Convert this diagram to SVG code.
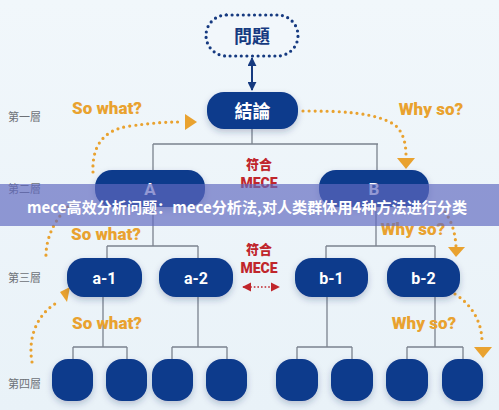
<svg xmlns="http://www.w3.org/2000/svg" width="499" height="410" viewBox="0 0 499 410">
<defs>
<linearGradient id="bg" x1="0" y1="0" x2="0" y2="1">
<stop offset="0" stop-color="#f1f7fb"/>
<stop offset="1" stop-color="#e9f2f8"/>
</linearGradient>
<filter id="sh" x="-20%" y="-20%" width="140%" height="160%">
<feDropShadow dx="0" dy="3" stdDeviation="3" flood-color="#1a2f60" flood-opacity="0.25"/>
</filter>
<marker id="navyA" viewBox="0 0 10 10" refX="9" refY="5" markerWidth="9" markerHeight="9" markerUnits="userSpaceOnUse" orient="auto-start-reverse">
<path d="M0,0 L10,5 L0,10 z" fill="#163a80"/>
</marker>
<marker id="redA" viewBox="0 0 10 10" refX="9" refY="5" markerWidth="9" markerHeight="10" markerUnits="userSpaceOnUse" orient="auto-start-reverse">
<path d="M0,0 L10,5 L0,10 z" fill="#c0262c"/>
</marker>
</defs>
<style>
.node rect{fill:#103a8c;filter:url(#sh)}
.nt{font-family:"Roboto","Noto Sans CJK TC",sans-serif;font-weight:700;fill:#fff;text-anchor:middle;dominant-baseline:central}
.tree{fill:none;stroke:#7b838e;stroke-width:1.3}
.dot{fill:none;stroke:#e9a22f;stroke-width:3.2;stroke-linecap:round;stroke-dasharray:0 6}
.oa{fill:#e9a22f}
.ol{font-family:"Roboto","Liberation Sans",sans-serif;font-weight:900;font-size:17px;fill:#e9a22f;text-anchor:middle;dominant-baseline:central}
.lv{font-family:"Noto Sans CJK TC",sans-serif;font-size:11px;fill:#6d7177}
.red{font-family:"Roboto","Noto Sans CJK TC",sans-serif;font-weight:900;fill:#c0262c;text-anchor:middle;dominant-baseline:central}
</style>
<rect width="499" height="410" fill="url(#bg)"/>

<g id="connectors">
<path class="tree" d="M252,128 V144 M153,144 H378 M153,144 V170 M377,144 V170"/>
<path class="tree" d="M153,207 V246 M107,246 H198 M107,246 V258 M198,246 V258"/>
<path class="tree" d="M376,207 V246 M326,246 H435 M326,246 V258 M435,246 V258"/>
<path class="tree" d="M103,297 V347 M73,347 H127 M73,347 V359 M127,347 V359"/>
<path class="tree" d="M198,297 V347 M172,347 H227 M172,347 V359 M227,347 V359"/>
<path class="tree" d="M327,297 V347 M297,347 H352 M297,347 V359 M352,347 V359"/>
<path class="tree" d="M435,297 V347 M407,347 H463 M407,347 V359 M463,347 V359"/>
<line x1="252" y1="58" x2="252" y2="90" stroke="#163a80" stroke-width="2" marker-start="url(#navyA)" marker-end="url(#navyA)"/>
<line x1="243" y1="287" x2="279" y2="287" stroke="#c0262c" stroke-width="1.6" stroke-dasharray="1.6 2" marker-start="url(#redA)" marker-end="url(#redA)"/>
<path class="dot" d="M93,172 C92,150 100,130 130,126 S170,122 183,122"/>
<path class="oa" d="M185,114 L197,122 L185,130 z"/>
<path class="dot" d="M303,111 C340,111 375,112 395,125 C404,133 406,145 406,156"/>
<path class="oa" d="M397,158 L415,158 L406,169 z"/>
<path class="dot" d="M72,203 C58,215 45,235 46,259"/>
<path class="dot" d="M445,212 C452,222 455,232 456,246"/>
<path class="oa" d="M448,247 L465,247 L456,257 z"/>
<path class="dot" d="M32,362 C28,340 35,315 58,302"/>
<path class="oa" d="M60,292 L70,287 L67,302 z"/>
<path class="dot" d="M455,294 C472,305 482,322 482,342"/>
<path class="oa" d="M474,347 L492,347 L483,358 z"/>
</g>

<g id="n-problem">
<rect x="206" y="15" width="92" height="41" rx="20.5" fill="#f2f7fb" stroke="#163a80" stroke-width="3.2" stroke-linecap="round" stroke-dasharray="0 5.6"/>
<text x="252" y="36" class="nt" font-size="18" style="fill:#163a80">問題</text>
</g>
<g id="n-conclusion" class="node">
<rect x="207" y="92" width="91" height="37" rx="17"/>
<text x="252.5" y="111" class="nt" font-size="18">結論</text>
</g>
<g id="n-A" class="node">
<rect x="95" y="170" width="110" height="37" rx="17"/>
<text x="150" y="189" class="nt" font-size="17">A</text>
</g>
<g id="n-B" class="node">
<rect x="319" y="170" width="110" height="37" rx="17"/>
<text x="374" y="189" class="nt" font-size="17">B</text>
</g>
<g id="n-a1" class="node">
<rect x="67" y="258" width="75" height="39" rx="17"/>
<text x="104.5" y="278" class="nt" font-size="16">a-1</text>
</g>
<g id="n-a2" class="node">
<rect x="159" y="258" width="74" height="39" rx="17"/>
<text x="196" y="278" class="nt" font-size="16">a-2</text>
</g>
<g id="n-b1" class="node">
<rect x="295" y="258" width="73" height="39" rx="17"/>
<text x="331.5" y="278" class="nt" font-size="16">b-1</text>
</g>
<g id="n-b2" class="node">
<rect x="387" y="258" width="73" height="39" rx="17"/>
<text x="423.5" y="278" class="nt" font-size="16">b-2</text>
</g>
<g id="n-l4-1" class="node"><rect x="52" y="359" width="41" height="42" rx="16"/></g>
<g id="n-l4-2" class="node"><rect x="106" y="359" width="41" height="42" rx="16"/></g>
<g id="n-l4-3" class="node"><rect x="152" y="359" width="41" height="42" rx="16"/></g>
<g id="n-l4-4" class="node"><rect x="206" y="359" width="41" height="42" rx="16"/></g>
<g id="n-l4-5" class="node"><rect x="276" y="359" width="42" height="42" rx="16"/></g>
<g id="n-l4-6" class="node"><rect x="331" y="359" width="42" height="42" rx="16"/></g>
<g id="n-l4-7" class="node"><rect x="386" y="359" width="42" height="42" rx="16"/></g>
<g id="n-l4-8" class="node"><rect x="442" y="359" width="41" height="42" rx="16"/></g>

<g id="labels">
<text class="lv" x="8" y="121">第一層</text>
<text class="lv" x="8" y="193">第二層</text>
<text class="lv" x="8" y="282">第三層</text>
<text class="lv" x="8" y="388">第四層</text>
<text class="ol" x="107" y="108">So what?</text>
<text class="ol" x="431" y="109">Why so?</text>
<text class="ol" x="106" y="234">So what?</text>
<text class="ol" x="413" y="229">Why so?</text>
<text class="ol" x="107" y="323">So what?</text>
<text class="ol" x="424" y="323">Why so?</text>
<text class="red" x="259" y="164" font-size="13">符合</text>
<text class="red" x="259" y="183" font-size="14">MECE</text>
<text class="red" x="259" y="249" font-size="13">符合</text>
<text class="red" x="259" y="268" font-size="14">MECE</text>
</g>

<g id="banner">
<rect x="0" y="184" width="499" height="42" fill="rgba(96,104,192,0.68)"/>
<text x="247" y="206" font-family="'Noto Sans CJK SC',sans-serif" font-weight="700" font-size="15" fill="#fff" text-anchor="middle" dominant-baseline="central" textLength="440" lengthAdjust="spacingAndGlyphs">mece高效分析问题：mece分析法,对人类群体用4种方法进行分类</text>
</g>
</svg>
